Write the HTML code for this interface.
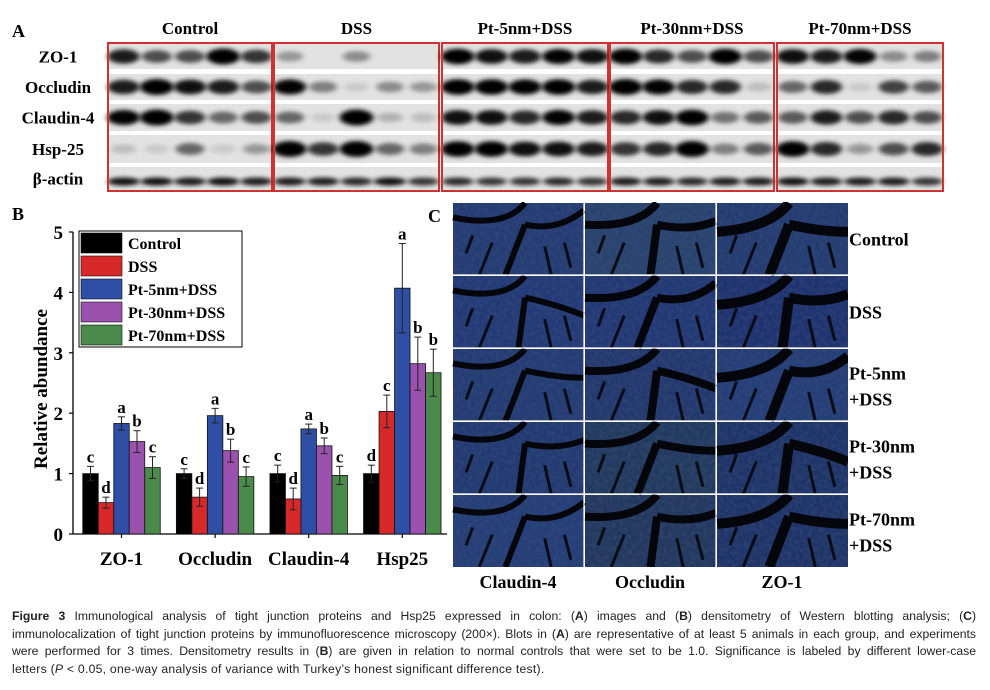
<!DOCTYPE html>
<html><head><meta charset="utf-8"><style>
body{margin:0;background:#fff;width:990px;height:690px;overflow:hidden;position:relative;font-family:"Liberation Serif",serif}
.cap{position:absolute;left:12px;width:964px;font-family:"Liberation Sans",sans-serif;font-size:12.2px;color:#222;line-height:17.5px;top:608px}
.cap div{text-align:justify;text-align-last:justify;white-space:nowrap}
.cap div.last{text-align-last:left;letter-spacing:0.25px}
</style></head><body>
<svg id="fig" width="990" height="600" style="position:absolute;left:0;top:0" font-family="Liberation Serif, serif" font-weight="bold">
<defs>
<filter id="bl" x="-50%" y="-100%" width="200%" height="300%"><feGaussianBlur stdDeviation="3 2.2"/></filter>
<filter id="tx" x="0" y="0" width="100%" height="100%"><feTurbulence type="fractalNoise" baseFrequency="0.25" numOctaves="2" seed="3"/><feColorMatrix values="0 0 0 0 0.05  0 0 0 0 0.08  0 0 0 0 0.2  0 0 0 -1.6 1.1"/></filter>
<clipPath id="mclip"><rect x="452" y="202" width="396" height="365"/></clipPath>
</defs>
<text x="12" y="37" font-size="18">A</text>
<g id="blot"></g>
<text x="12" y="220" font-size="18">B</text>
<g id="chart"></g>
<text x="428" y="222" font-size="18">C</text>
<g id="micro"></g>
</svg>
<div class="cap">
<div><b>Figure 3</b> Immunological analysis of tight junction proteins and Hsp25 expressed in colon: (<b>A</b>) images and (<b>B</b>) densitometry of Western blotting analysis; (<b>C</b>)</div>
<div>immunolocalization of tight junction proteins by immunofluorescence microscopy (200×). Blots in (<b>A</b>) are representative of at least 5 animals in each group, and experiments</div>
<div>were performed for 3 times. Densitometry results in (<b>B</b>) are given in relation to normal controls that were set to be 1.0. Significance is labeled by different lower-case</div>
<div class="last">letters (<i>P</i> &lt; 0.05, one-way analysis of variance with Turkey’s honest significant difference test).</div>
</div>
<script>
const NS='http://www.w3.org/2000/svg';
function mk(p,t,a,txt){const e=document.createElementNS(NS,t);for(const k in a)e.setAttribute(k,a[k]);if(txt!==undefined)e.textContent=txt;p.appendChild(e);return e;}

// ---------- chart data ----------
const categories=['ZO-1','Occludin','Claudin-4','Hsp25'];
const seriesNames=['Control','DSS','Pt-5nm+DSS','Pt-30nm+DSS','Pt-70nm+DSS'];
const seriesColors=['#000000','#d7282a','#2f4fa6','#9a52ae','#4a8a4a'];
const valControl=[1.00,1.00,1.00,1.00];
const valDSS=[0.52,0.61,0.58,2.03];
const valPt5=[1.83,1.96,1.74,4.07];
const valPt30=[1.53,1.38,1.46,2.82];
const valPt70=[1.10,0.95,0.97,2.67];
const errControl=[0.12,0.08,0.14,0.14];
const errDSS=[0.09,0.15,0.18,0.27];
const errPt5=[0.11,0.12,0.08,0.74];
const errPt30=[0.18,0.19,0.13,0.44];
const errPt70=[0.18,0.16,0.15,0.39];
const lettersControl=['c','c','c','d'];
const lettersDSS=['d','d','d','c'];
const lettersPt5=['a','a','a','a'];
const lettersPt30=['b','b','b','b'];
const lettersPt70=['c','c','c','b'];
const yTicks=[0,1,2,3,4,5];

const vals=[valControl,valDSS,valPt5,valPt30,valPt70];
const errs=[errControl,errDSS,errPt5,errPt30,errPt70];
const lets=[lettersControl,lettersDSS,lettersPt5,lettersPt30,lettersPt70];
const Y0=534,Y5=232,X0=73,X1=447;
const y=v=>Y0-(v/5)*(Y0-Y5);
const gc=i=>121.5+i*93.6;
const bw=15.5;
const ch=document.getElementById('chart');
let ax=mk(ch,'line',{x1:X0,y1:Y5,x2:X0,y2:Y0+0.5,stroke:'#000','stroke-width':1.3});

ax=mk(ch,'line',{x1:X0,y1:Y0,x2:X1,y2:Y0,stroke:'#000','stroke-width':1.3});

yTicks.forEach(t=>{
  mk(ch,'line',{x1:X0-4,y1:y(t),x2:X0,y2:y(t),stroke:'#000','stroke-width':1.2});
  const tl=mk(ch,'text',{x:X0-10,y:y(t)+7,'font-size':19,'text-anchor':'end'},t);
  
});
const yt=mk(ch,'text',{x:0,y:0,'font-size':19,'text-anchor':'middle',transform:`translate(47,${(Y0+Y5)/2+6}) rotate(-90)`},'Relative abundance');

categories.forEach((c,i)=>{
  mk(ch,'line',{x1:gc(i),y1:Y0,x2:gc(i),y2:Y0+4,stroke:'#000','stroke-width':1.2});
  const cl=mk(ch,'text',{x:gc(i),y:Y0+31,'font-size':19,'text-anchor':'middle'},c);
  
  vals.forEach((sv,s)=>{
    const x=gc(i)-2.5*bw+s*bw, v=sv[i], e=errs[s][i];
    const r=mk(ch,'rect',{x:x,y:y(v),width:bw,height:Y0-y(v),fill:seriesColors[s],stroke:'#111','stroke-width':0.8});
    
    const cx=x+bw/2;
    mk(ch,'line',{x1:cx,y1:y(v+e),x2:cx,y2:y(v-e),stroke:'#222','stroke-width':1});
    mk(ch,'line',{x1:cx-3.5,y1:y(v+e),x2:cx+3.5,y2:y(v+e),stroke:'#222','stroke-width':1});
    mk(ch,'line',{x1:cx-3.5,y1:y(v-e),x2:cx+3.5,y2:y(v-e),stroke:'#222','stroke-width':1});
    const lt=mk(ch,'text',{x:cx,y:y(v+e)-4,'font-size':17,'text-anchor':'middle'},lets[s][i]);
    
  });
});
const lg=mk(ch,'g',{});

mk(lg,'rect',{x:79,y:231,width:163,height:116,fill:'#fff',stroke:'#000','stroke-width':1});
seriesNames.forEach((n,s)=>{
  const ty=233+s*23;
  const sw=mk(lg,'rect',{x:81,y:ty,width:41,height:20,fill:seriesColors[s],stroke:'#111','stroke-width':0.6});
  
  const t=mk(lg,'text',{x:128,y:ty+16,'font-size':16},n);
  
});

// ---------- western blot ----------
const bl=document.getElementById('blot');
const groups=['Control','DSS','Pt-5nm+DSS','Pt-30nm+DSS','Pt-70nm+DSS'];
const gx=[107,273,441,609,776], gw=[166,167,168,166,168];
const rowNames=['ZO-1','Occludin','Claudin-4','Hsp-25','β-actin'];
const rowY=[[44,69],[74,100],[104,131],[135,163],[167,190]];
const inten=[
 [[.8,.6,.6,1,.7],[.3,0,.35,0,0],[.95,.85,.8,.9,.85],[.95,.75,.6,.95,.6],[.85,.8,.9,.35,.4]],
 [[.8,1,.85,.8,.6],[.9,.4,.1,.35,.3],[.95,.95,.9,.95,.8],[1,.9,.75,.75,.15],[.5,.75,.1,.65,.55]],
 [[.9,1,.7,.5,.6],[.5,.1,1,.2,.15],[.85,.85,.75,.9,.8],[.75,.85,.95,.45,.55],[.55,.8,.6,.75,.6]],
 [[.15,.1,.5,.1,.3],[1,.7,1,.5,.4],[.95,.95,.85,.85,.8],[.7,.75,1,.4,.55],[.95,.75,.3,.6,.75]],
 [[.85,.85,.8,.85,.8],[.8,.8,.75,.85,.7],[.75,.7,.7,.75,.7],[.8,.8,.75,.8,.8],[.85,.8,.8,.8,.7]]];
groups.forEach((g,gi)=>{
  const t=mk(bl,'text',{x:gx[gi]+gw[gi]/2,y:34,'font-size':17,'text-anchor':'middle'},g);
  
  mk(bl,'rect',{x:gx[gi],y:43,width:gw[gi],height:148,fill:'#fff'});
  rowY.forEach((r,ri)=>{
    mk(bl,'rect',{x:gx[gi]+2,y:r[0],width:gw[gi]-4,height:r[1]-r[0],fill:'#e2e2e2'});
    for(let l=0;l<5;l++){
      const a=inten[ri][gi][l];
      const cx=gx[gi]+gw[gi]*(l+0.5)/5, cy=(r[0]+r[1])/2+(ri==4?3:0);
      mk(bl,'ellipse',{cx:cx,cy:cy,rx:12+5*a,ry:ri==4?4:4+4*a,fill:'#000','fill-opacity':Math.min(1,a*1.1),filter:'url(#bl)'});
    }
  });
  const bx=mk(bl,'rect',{x:gx[gi]+1,y:43,width:gw[gi]-2,height:148,fill:'none',stroke:'#cc3333','stroke-width':2});
  
});
rowNames.forEach((n,ri)=>{
  const t=mk(bl,'text',{x:58,y:(rowY[ri][0]+rowY[ri][1])/2+6,'font-size':17,'text-anchor':'middle'},n);
  
});

// ---------- microscopy ----------
const mi=document.getElementById('micro');
const mg=mk(mi,'g',{'clip-path':'url(#mclip)'});
const colX=[452,584,716,848], rY=[202,275,348,421,494,567];
const colNames=['Claudin-4','Occludin','ZO-1'];
const rowLab=[['Control'],['DSS'],['Pt-5nm','+DSS'],['Pt-30nm','+DSS'],['Pt-70nm','+DSS']];
const tint=[['#243c74','#28446e','#243c72'],['#223a78','#223876','#1e3270'],['#233c74','#22386e','#243e78'],['#223a72','#223a5e','#1e3468'],['#243e78','#22385e','#1e3468']];
for(let r=0;r<5;r++)for(let c=0;c<3;c++){
  const x=colX[c]+1,yy=rY[r]+1,w=colX[c+1]-colX[c]-1,h=rY[r+1]-rY[r]-1;
  const t=mk(mg,'rect',{x:x,y:yy,width:w,height:h,fill:tint[r][c]});
  
  mk(mg,'rect',{x:x,y:yy,width:w,height:h,filter:'url(#tx)',opacity:0.55});
  const sd=r*3+c;
  mk(mg,'path',{d:`M${x} ${yy+h*(.2+.1*(sd%3))} Q${x+w*.4} ${yy+h*.35} ${x+w*.55} ${yy} M${x+w*.55} ${yy+h*.3} L${x+w*(.4+.1*(sd%2))} ${yy+h} M${x+w*.55} ${yy+h*.3} Q${x+w*.8} ${yy+h*.4} ${x+w} ${yy+h*(.1+.15*(sd%4))}`,stroke:'#04060c','stroke-width':6+(sd%3)*2,fill:'none'});
  mk(mg,'path',{d:`M${x+w*.2} ${yy+h} L${x+w*.3} ${yy+h*.55} M${x+w*.75} ${yy+h} L${x+w*.7} ${yy+h*.6} M${x+w*.1} ${yy+h*.7} L${x+w*.15} ${yy+h*.45} M${x+w*.9} ${yy+h*.9} L${x+w*.85} ${yy+h*.55}`,stroke:'#080c18','stroke-width':3,fill:'none'});
}
for(let c=1;c<3;c++) mk(mi,'line',{x1:colX[c],y1:202,x2:colX[c],y2:567,stroke:'#fff','stroke-width':1.2});
for(let r=1;r<5;r++) mk(mi,'line',{x1:452,y1:rY[r],x2:848,y2:rY[r],stroke:'#fff','stroke-width':1.2});
colNames.forEach((n,i)=>{
  const t=mk(mi,'text',{x:(colX[i]+colX[i+1])/2,y:588,'font-size':18,'text-anchor':'middle'},n);
  
});
rowLab.forEach((ls,r)=>{
  const cy=(rY[r]+rY[r+1])/2;
  ls.forEach((s,k)=>{
    const t=mk(mi,'text',{x:849,y:cy+7+(ls.length==2?(k==0?-12:14):0),'font-size':18},s);
    
  });
});
</script>
</body></html>
